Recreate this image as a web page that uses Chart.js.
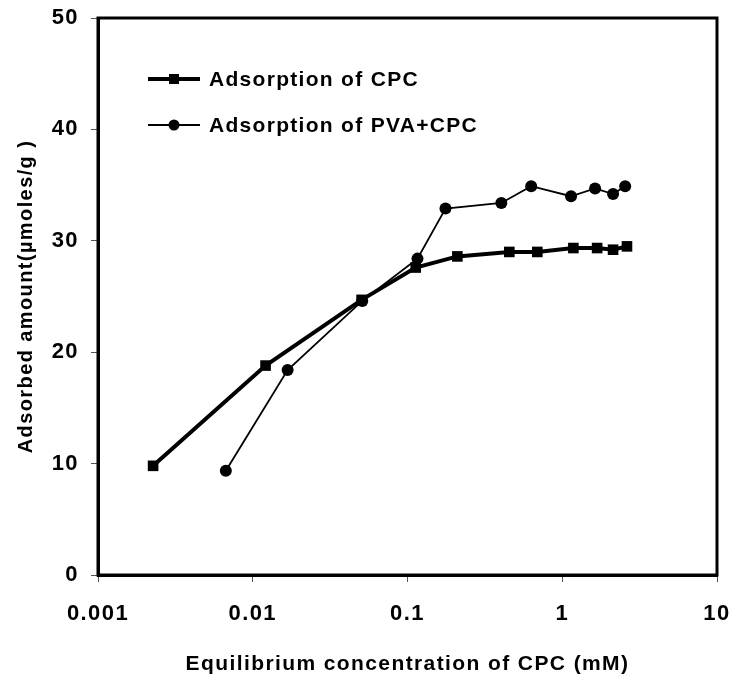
<!DOCTYPE html>
<html>
<head>
<meta charset="utf-8">
<script src="https://cdn.jsdelivr.net/npm/chart.js@4"></script>
<style>
  html, body { margin: 0; padding: 0; background: #fff; }
  #wrap { width: 732px; height: 677px; }
</style>
</head>
<body>
<div id="wrap"><canvas id="myChart" width="732" height="677"></canvas></div>
<script>
// equilibrium concentration (mM) and adsorbed amount (umoles/g)
var cpcConc = [0.00227, 0.0121, 0.0505, 0.113, 0.21, 0.455, 0.69, 1.18, 1.68, 2.13, 2.62];
var cpcAds  = [9.8, 18.8, 24.7, 27.6, 28.6, 29.0, 29.0, 29.35, 29.35, 29.2, 29.5];

var pvaConc = [0.0067, 0.0168, 0.051, 0.116, 0.176, 0.404, 0.63, 1.14, 1.63, 2.13, 2.55];
var pvaAds  = [9.35, 18.4, 24.6, 28.4, 32.9, 33.4, 34.9, 34.0, 34.7, 34.2, 34.9];

var xTicks = [0.001, 0.01, 0.1, 1, 10];
var yTicks = [0, 10, 20, 30, 40, 50];

var seriesNames = ['Adsorption of CPC', 'Adsorption of PVA+CPC'];

function toPoints(xs, ys) {
    return xs.map(function (x, i) { return { x: x, y: ys[i] }; });
}

var FONT = 'Liberation Sans, Arial, sans-serif';
var SPACING = '1.4px';

// slightly wide letter spacing for every label, set before measuring and drawing
var spacingPlugin = {
    id: 'spacing',
    beforeLayout: function (chart) { chart.ctx.letterSpacing = SPACING; },
    beforeDraw: function (chart) { chart.ctx.letterSpacing = SPACING; }
};

// box round the plot area plus the legend drawn inside it
var framePlugin = {
    id: 'frame',
    afterDraw: function (chart) {
        var c = chart.ctx, a = chart.chartArea;
        c.save();
        c.strokeStyle = '#000';
        c.lineWidth = 3;
        c.strokeRect(a.left, a.top, a.right - a.left, a.bottom - a.top);

        var rows = [79, 125];
        chart.data.datasets.forEach(function (ds, i) {
            var y = rows[i];
            c.strokeStyle = '#000';
            c.lineWidth = ds.borderWidth;
            c.beginPath();
            c.moveTo(148, y);
            c.lineTo(200, y);
            c.stroke();
            c.fillStyle = '#000';
            if (ds.pointStyle === 'rect') {
                c.fillRect(174 - 5, y - 5, 10, 10);
            } else {
                c.beginPath();
                c.arc(174, y, 5.5, 0, Math.PI * 2);
                c.fill();
            }
            c.font = 'bold 21px ' + FONT;
            c.letterSpacing = '1.3px';
            c.textBaseline = 'middle';
            c.textAlign = 'left';
            c.fillText(ds.label, 209, y + 1);
        });
        c.restore();
    }
};

var ctx = document.getElementById('myChart');

var myChart = new Chart(ctx, {
    type: 'line',
    data: {
        datasets: [{
            label: seriesNames[0],
            data: toPoints(cpcConc, cpcAds),
            borderColor: '#000',
            backgroundColor: '#000',
            borderWidth: 4,
            pointStyle: 'rect',
            pointRadius: 7.5,
            pointBorderWidth: 0,
            fill: false,
            tension: 0
        }, {
            label: seriesNames[1],
            data: toPoints(pvaConc, pvaAds),
            borderColor: '#000',
            backgroundColor: '#000',
            borderWidth: 1.8,
            pointStyle: 'circle',
            pointRadius: 6,
            pointBorderWidth: 0,
            fill: false,
            tension: 0
        }]
    },
    options: {
        responsive: false,
        animation: false,
        layout: { padding: { left: 0, top: 18, right: 15, bottom: 0 } },
        plugins: {
            legend: { display: false },
            tooltip: { enabled: false }
        },
        scales: {
            x: {
                type: 'logarithmic',
                min: 0.001,
                max: 10,
                afterBuildTicks: function (scale) {
                    scale.ticks = xTicks.map(function (v) { return { value: v }; });
                },
                afterFit: function (scale) {
                    scale.height = 102;
                    scale.paddingLeft = 0;
                    scale.paddingRight = 0;
                },
                ticks: {
                    color: '#000',
                    font: { family: FONT, size: 22, weight: 'bold' },
                    padding: 19,
                    maxRotation: 0,
                    callback: function (v) { return String(v); }
                },
                grid: { drawOnChartArea: false, drawTicks: true, tickLength: 7, color: '#555' },
                border: { display: true, color: '#000', width: 3 },
                title: {
                    display: true,
                    text: 'Equilibrium concentration of CPC (mM)',
                    color: '#000',
                    font: { family: FONT, size: 21, weight: 'bold' },
                    padding: { top: 8, bottom: 0 }
                }
            },
            y: {
                min: 0,
                max: 50,
                afterBuildTicks: function (scale) {
                    scale.ticks = yTicks.map(function (v) { return { value: v }; });
                },
                afterFit: function (scale) {
                    scale.width = 98;
                    scale.paddingTop = 0;
                    scale.paddingBottom = 0;
                },
                ticks: {
                    color: '#000',
                    font: { family: FONT, size: 22, weight: 'bold' },
                    padding: 12
                },
                grid: { drawOnChartArea: false, drawTicks: true, tickLength: 7, color: '#555' },
                border: { display: true, color: '#000', width: 3 },
                title: {
                    display: true,
                    text: 'Adsorbed amount(µmoles/g )',
                    color: '#000',
                    font: { family: FONT, size: 20, weight: 'bold' },
                    padding: { top: 14, bottom: 0 }
                }
            }
        }
    },
    plugins: [spacingPlugin, framePlugin]
});
</script>
</body>
</html>
